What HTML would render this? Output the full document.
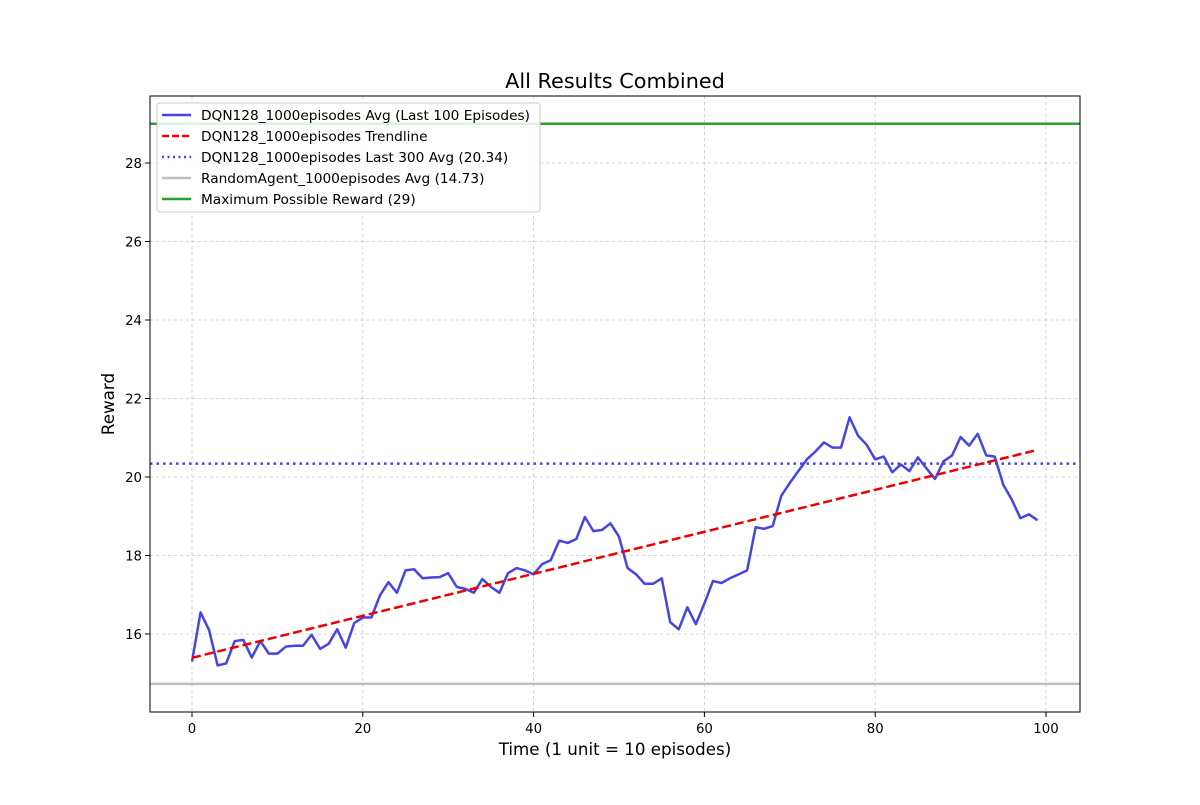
<!DOCTYPE html>
<html><head><meta charset="utf-8"><style>
body{margin:0;background:#fff}
svg text{font-family:"DejaVu Sans","Liberation Sans",sans-serif;fill:#000}
</style></head><body>
<svg id="chart" width="1200" height="800" xmlns="http://www.w3.org/2000/svg">
<rect width="1200" height="800" fill="#fff"/>
<g id="grid"></g><g id="marks"></g><g id="axes"></g>
<text x="615" y="88" font-size="20.8" text-anchor="middle">All Results Combined</text>
<text x="615" y="755" font-size="16.7" text-anchor="middle">Time (1 unit = 10 episodes)</text>
<text transform="translate(114,404) rotate(-90)" font-size="16.7" text-anchor="middle">Reward</text>
<g id="legend"></g>
</svg>
<script>
const dqnAvg=[15.3,16.55,16.1,15.2,15.25,15.82,15.85,15.4,15.82,15.5,15.5,15.68,15.7,15.7,15.98,15.62,15.75,16.12,15.65,16.28,16.42,16.42,16.98,17.32,17.05,17.62,17.65,17.42,17.44,17.45,17.55,17.2,17.15,17.05,17.4,17.2,17.05,17.55,17.68,17.62,17.52,17.78,17.88,18.38,18.32,18.42,18.98,18.62,18.65,18.82,18.48,17.68,17.52,17.28,17.28,17.42,16.3,16.12,16.68,16.25,16.78,17.35,17.3,17.42,17.52,17.62,18.72,18.68,18.75,19.52,19.85,20.15,20.45,20.65,20.88,20.75,20.75,21.52,21.05,20.82,20.45,20.52,20.12,20.32,20.15,20.5,20.22,19.95,20.4,20.55,21.02,20.8,21.1,20.55,20.52,19.8,19.42,18.95,19.05,18.9];
const last300Avg=[20.34];
const randomAvg=[14.73];
const maxReward=[29];
const xTicks=[0,20,40,60,80,100];
const yTicks=[16,18,20,22,24,26,28];
const legendLabels=["DQN128_1000episodes Avg (Last 100 Episodes)","DQN128_1000episodes Trendline","DQN128_1000episodes Last 300 Avg (20.34)","RandomAgent_1000episodes Avg (14.73)","Maximum Possible Reward (29)"];

const L=150,R=1080,T=96,B=712;
const xs=v=>192+(v-0)*(1046-192)/100;
const ys=v=>634-(v-16)*(634-163)/12;
const NS="http://www.w3.org/2000/svg";
function mk(tag,attrs,parent){const e=document.createElementNS(NS,tag);for(const k in attrs)e.setAttribute(k,attrs[k]);parent.appendChild(e);return e;}
const grid=document.getElementById('grid'),marks=document.getElementById('marks'),axes=document.getElementById('axes'),leg=document.getElementById('legend');
xTicks.forEach(t=>{const x=xs(t);
 const g=mk('line',{x1:x,x2:x,y1:T,y2:B,stroke:'#b0b0b0','stroke-width':0.8,'stroke-dasharray':'3,3',opacity:0.7},grid);
 
 
 mk('line',{x1:x,x2:x,y1:B,y2:B+5,stroke:'#000'},axes);
 const tx=mk('text',{x:x,y:B+21,'font-size':13.3,'text-anchor':'middle'},axes);tx.textContent=t;
 
 });
yTicks.forEach(t=>{const y=ys(t);
 const g=mk('line',{x1:L,x2:R,y1:y,y2:y,stroke:'#b0b0b0','stroke-width':0.8,'stroke-dasharray':'3,3',opacity:0.7},grid);
 
 
 mk('line',{x1:L-5,x2:L,y1:y,y2:y,stroke:'#000'},axes);
 const tx=mk('text',{x:L-8,y:y+5,'font-size':13.3,'text-anchor':'end'},axes);tx.textContent=t;
 
 });
const fr=mk('rect',{x:L,y:T,width:R-L,height:B-T,fill:'none',stroke:'#000','stroke-width':1},axes);


const hl=(v,c,dash,name)=>{const e=mk('line',{x1:L,x2:R,y1:ys(v),y2:ys(v),stroke:c,'stroke-width':2.5,'stroke-dasharray':dash||'none'},marks);
 
 };
hl(randomAvg[0],'#bfbfbf',null,'random-agent-line');
hl(maxReward[0],'#2ca02c',null,'max-reward-line');
hl(last300Avg[0],'#4444ee','2.5,4','last-300-avg-line');
const p=mk('polyline',{points:dqnAvg.map((v,i)=>xs(i)+','+ys(v)).join(' '),fill:'none',stroke:'#4545e6','stroke-width':2.5,'stroke-linejoin':'round'},marks);


const n=dqnAvg.length;let sx=0,sy=0,sxy=0,sxx=0;dqnAvg.forEach((v,i)=>{sx+=i;sy+=v;sxy+=i*v;sxx+=i*i;});
const m=(n*sxy-sx*sy)/(n*sxx-sx*sx),b=(sy-m*sx)/n;
const tl=mk('line',{x1:xs(0),y1:ys(b),x2:xs(n-1),y2:ys(b+m*(n-1)),stroke:'#ee0000','stroke-width':2.5,'stroke-dasharray':'9,4'},marks);


const lb=mk('rect',{x:157,y:103,width:383,height:109,fill:'#fff','fill-opacity':0.85,stroke:'#ccc',rx:3},leg);


const styles=[['#4545e6','none'],['#ee0000','7,3'],['#4444ee','2,3.5'],['#bfbfbf','none'],['#2ca02c','none']];
legendLabels.forEach((s,i)=>{const y=115+i*21;
 mk('line',{x1:162,x2:191,y1:y,y2:y,stroke:styles[i][0],'stroke-width':2.5,'stroke-dasharray':styles[i][1]},leg);
 const t=mk('text',{x:201,y:y+5,'font-size':13.7},leg);t.textContent=s;
 
 });
</script>
</body></html>
